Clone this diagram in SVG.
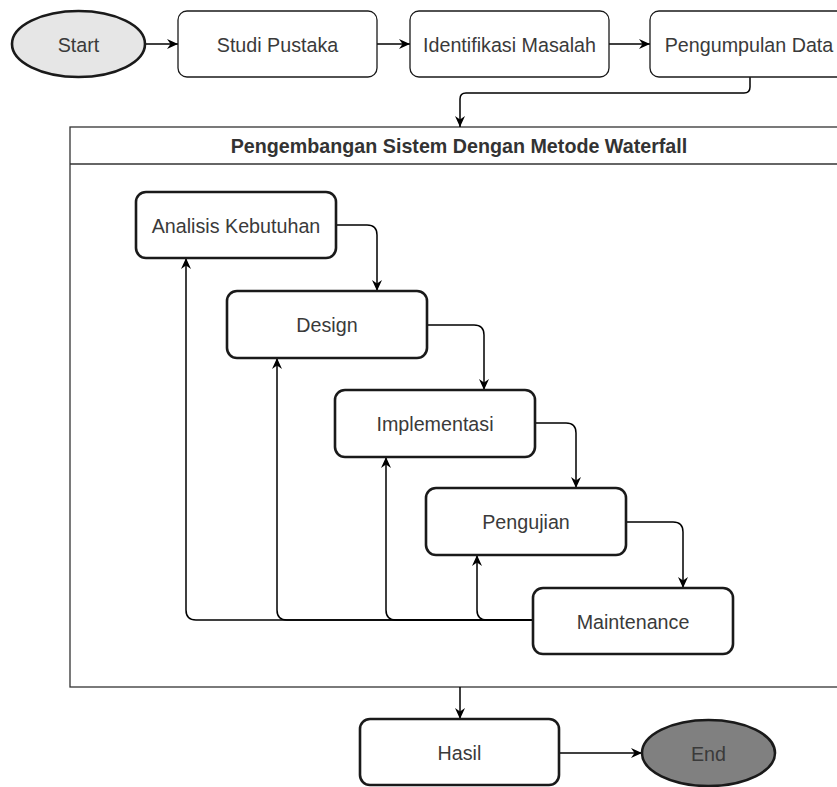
<svg xmlns="http://www.w3.org/2000/svg" width="837" height="787" viewBox="0 0 837 787">
<style>
  text { font-family: "Liberation Sans", Arial, sans-serif; font-size: 19.7px; fill: #3a3a3a; text-anchor: middle; }
  .hdr { font-weight: bold; fill: #333333; }
  .thin { fill: #ffffff; stroke: #1a1a1a; stroke-width: 1.3; }
  .thick { fill: #ffffff; stroke: #1a1a1a; stroke-width: 2.6; }
  .edge { fill: none; stroke: #000000; stroke-width: 1.5; marker-end: url(#arr); }
</style>
<defs>
  <marker id="arr" viewBox="0 0 11 10" refX="11" refY="5" markerWidth="11" markerHeight="10" markerUnits="userSpaceOnUse" orient="auto">
    <path d="M0,0 L11,5 L0,10 L3.5,5 Z" fill="#000000"/>
  </marker>
</defs>
<rect width="837" height="787" fill="#ffffff"/>

<g id="container">
  <rect x="70" y="127" width="778" height="560" fill="#ffffff" stroke="#333333" stroke-width="1.3"/>
  <line x1="70" y1="164" x2="848" y2="164" stroke="#333333" stroke-width="1.3"/>
  <text class="hdr" x="459" y="153">Pengembangan Sistem Dengan Metode Waterfall</text>
</g>

<g id="connectors">
  <path class="edge" d="M145,44 H178"/>
  <path class="edge" d="M377,44 H410"/>
  <path class="edge" d="M609,44 H650"/>
  <path class="edge" d="M750,77 V87 Q750,93 744,93 H466 Q460,93 460,99 V127"/>
  <path class="edge" d="M336,225 H367 Q377,225 377,235 V291"/>
  <path class="edge" d="M427,325 H474 Q484,325 484,335 V390"/>
  <path class="edge" d="M535,423 H566 Q576,423 576,433 V488"/>
  <path class="edge" d="M626,522 H673 Q683,522 683,532 V588"/>
  <path class="edge" d="M533,620 H196 Q186,620 186,610 V258"/>
  <path class="edge" d="M533,620 H287 Q277,620 277,610 V358"/>
  <path class="edge" d="M533,620 H396 Q386,620 386,610 V457"/>
  <path class="edge" d="M533,620 H487 Q477,620 477,610 V555"/>
  <path class="edge" d="M460,687 V719"/>
  <path class="edge" d="M559,753 H642"/>
</g>

<g id="start">
  <ellipse cx="78.5" cy="44" rx="66.5" ry="33" fill="#e6e6e6" stroke="#1a1a1a" stroke-width="2.6"/>
  <text x="78.5" y="51.5">Start</text>
</g>
<g id="studi-pustaka">
  <rect class="thin" x="178" y="11" width="199" height="66" rx="9"/>
  <text x="277.5" y="51.5">Studi Pustaka</text>
</g>
<g id="identifikasi-masalah">
  <rect class="thin" x="410" y="11" width="199" height="66" rx="9"/>
  <text x="509.5" y="51.5">Identifikasi Masalah</text>
</g>
<g id="pengumpulan-data">
  <rect class="thin" x="650" y="11" width="199" height="66" rx="9"/>
  <text x="749" y="51.5">Pengumpulan Data</text>
</g>

<g id="analisis-kebutuhan">
  <rect class="thick" x="136" y="192" width="200" height="66" rx="10"/>
  <text x="236" y="232.5">Analisis Kebutuhan</text>
</g>
<g id="design">
  <rect class="thick" x="227" y="291" width="200" height="67" rx="10"/>
  <text x="327" y="332">Design</text>
</g>
<g id="implementasi">
  <rect class="thick" x="335" y="390" width="200" height="67" rx="10"/>
  <text x="435" y="431">Implementasi</text>
</g>
<g id="pengujian">
  <rect class="thick" x="426" y="488" width="200" height="67" rx="10"/>
  <text x="526" y="529">Pengujian</text>
</g>
<g id="maintenance">
  <rect class="thick" x="533" y="588" width="200" height="66" rx="10"/>
  <text x="633" y="628.5">Maintenance</text>
</g>

<g id="hasil">
  <rect class="thick" x="360" y="719" width="199" height="66" rx="10"/>
  <text x="459.5" y="759.5">Hasil</text>
</g>
<g id="end">
  <ellipse cx="708.5" cy="753" rx="66.5" ry="33" fill="#808080" stroke="#1a1a1a" stroke-width="2.6"/>
  <text x="708.5" y="760.5">End</text>
</g>
</svg>
